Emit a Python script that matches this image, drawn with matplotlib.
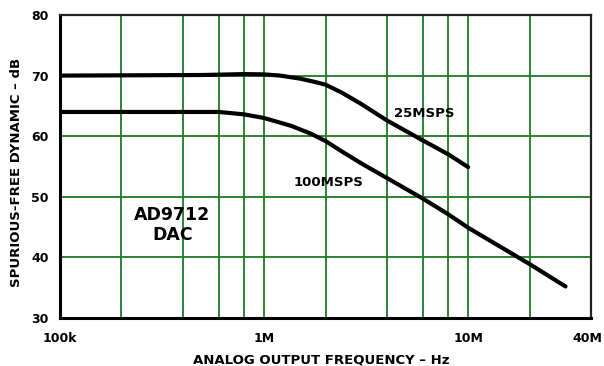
import numpy as np
from matplotlib import pyplot as plt
from matplotlib.ticker import FixedLocator, NullFormatter
from matplotlib.transforms import ScaledTranslation

plt.rcParams['font.family'] = ['DejaVu Sans']

# 25MSPS curve (Hz, dB)
freq_25 = [1e5, 5e5, 8e5, 1.0e6, 1.2e6, 1.5e6, 1.8e6, 2.0e6, 2.4e6, 3e6, 4e6, 6e6, 8e6, 10e6]
sfdr_25 = [70.0, 70.1, 70.25, 70.2, 70.0, 69.5, 68.9, 68.5, 67.2, 65.3, 62.6, 59.3, 57.0, 54.9]

# 100MSPS curve (Hz, dB)
freq_100 = [1e5, 6e5, 8e5, 1.0e6, 1.36e6, 1.7e6, 2.0e6, 2.4e6, 3e6, 4e6, 6e6, 8e6, 10e6, 20e6, 30e6]
sfdr_100 = [64.0, 64.0, 63.6, 63.0, 61.7, 60.4, 59.2, 57.5, 55.5, 53.1, 49.7, 47.1, 44.9, 38.9, 35.2]

x_ticks = [1e5, 1e6, 1e7, 4e7]
x_tick_labels = ['100k', '1M', '10M', '40M']
y_ticks = [30, 40, 50, 60, 70, 80]
x_grid = [m * d for d in (1e5, 1e6) for m in (2, 4, 6, 8, 10)] + [2e7]
y_grid = [40, 50, 60, 70]

green = '#1f7a22'

fig = plt.figure(figsize=(6.04, 3.66), dpi=100)
ax = fig.add_axes([60 / 604, 1 - 318 / 366, 531 / 604, 303 / 366])

ax.set_xscale('log')
ax.set_xlim(1e5, 4e7)
ax.set_ylim(30, 80)

for xv in x_grid:
    ax.axvline(xv, color=green, lw=1.3, zorder=1)
for yv in y_grid:
    ax.axhline(yv, color=green, lw=1.3, zorder=1)

ax.plot(freq_25, sfdr_25, color='black', lw=3.0, solid_capstyle='round', solid_joinstyle='round', zorder=3)
ax.plot(freq_100, sfdr_100, color='black', lw=3.0, solid_capstyle='round', solid_joinstyle='round', zorder=3)

ax.xaxis.set_major_locator(FixedLocator(x_ticks))
ax.set_xticklabels(x_tick_labels)
ax.xaxis.set_minor_formatter(NullFormatter())
ax.set_yticks(y_ticks)
ax.tick_params(axis='both', which='both', length=0, labelsize=9)
ax.tick_params(axis='x', pad=10)
ax.tick_params(axis='y', pad=8)
for lbl in ax.get_xticklabels() + ax.get_yticklabels():
    lbl.set_fontweight('bold')
# keep "40M" inside the picture
last = ax.get_xticklabels()[-1]
last.set_transform(last.get_transform() + ScaledTranslation(-4 / 100, 0, fig.dpi_scale_trans))

for side in ['left', 'bottom']:
    ax.spines[side].set_linewidth(2.2)
for side in ['top', 'right']:
    ax.spines[side].set_linewidth(1.6)
    ax.spines[side].set_color('#222222')

ax.text(6.1e6, 63.8, '25MSPS', ha='center', va='center', fontsize=9.5, fontweight='bold', zorder=4)
ax.text(2.07e6, 52.4, '100MSPS', ha='center', va='center', fontsize=9.5, fontweight='bold', zorder=4)
ax.text(3.56e5, 45.3, 'AD9712\nDAC', ha='center', va='center', fontsize=12.5, fontweight='bold',
        linespacing=1.15, zorder=4)

ax.set_xlabel('ANALOG OUTPUT FREQUENCY – Hz', fontsize=9.5, fontweight='bold', va='center')
ax.xaxis.set_label_coords(0.4915, -0.139)
ax.set_ylabel('SPURIOUS-FREE DYNAMIC – dB', fontsize=9.5, fontweight='bold', va='center')
ax.yaxis.set_label_coords(-0.081, 0.482)

plt.savefig('out.png', dpi=100)
